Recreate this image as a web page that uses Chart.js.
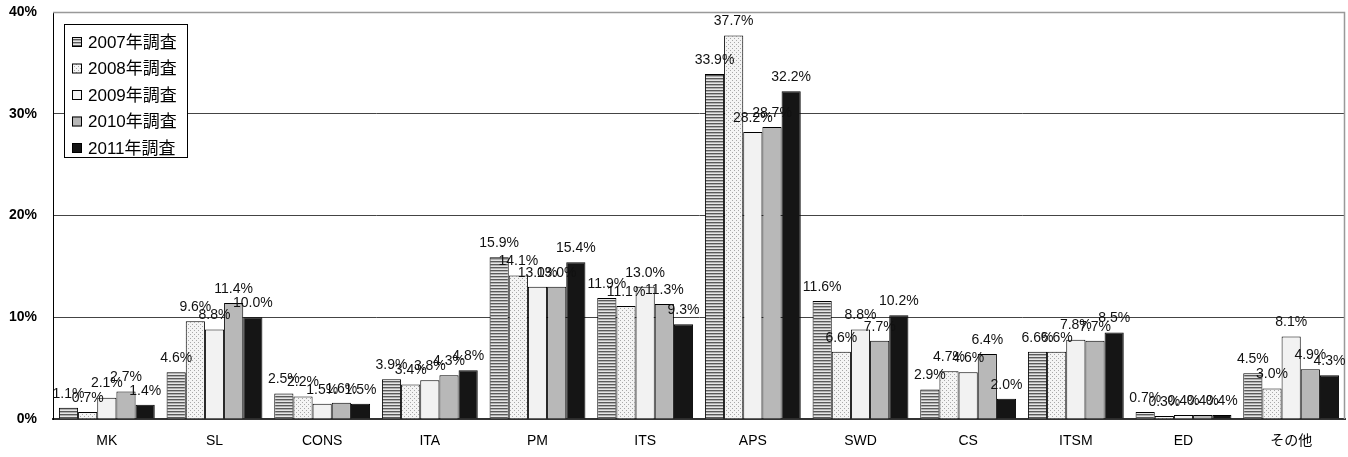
<!DOCTYPE html>
<html>
<head>
<meta charset="utf-8">
<script src="https://cdn.jsdelivr.net/npm/chart.js@4/dist/chart.umd.min.js"></script>
<style>
  body { margin: 0; background: #fff; }
  canvas { display: block; }
</style>
</head>
<body>
<canvas id="chart" width="1348" height="457"></canvas>
<script>
// data
const categories = ['MK', 'SL', 'CONS', 'ITA', 'PM', 'ITS', 'APS', 'SWD', 'CS', 'ITSM', 'ED', 'その他'];
const seriesNames = ['2007年調査', '2008年調査', '2009年調査', '2010年調査', '2011年調査'];
const y2007 = [1.1, 4.6, 2.5, 3.9, 15.9, 11.9, 33.9, 11.6, 2.9, 6.6, 0.7, 4.5];
const y2008 = [0.7, 9.6, 2.2, 3.4, 14.1, 11.1, 37.7, 6.6, 4.7, 6.6, 0.3, 3.0];
const y2009 = [2.1, 8.8, 1.5, 3.8, 13.0, 13.0, 28.2, 8.8, 4.6, 7.8, 0.4, 8.1];
const y2010 = [2.7, 11.4, 1.6, 4.3, 13.0, 11.3, 28.7, 7.7, 6.4, 7.7, 0.4, 4.9];
const y2011 = [1.4, 10.0, 1.5, 4.8, 15.4, 9.3, 32.2, 10.2, 2.0, 8.5, 0.4, 4.3];
const yTicks = [0, 10, 20, 30, 40];

const FONT = "'Liberation Sans', 'Noto Sans CJK JP', sans-serif";

// fill patterns like the original's
function stripePattern() {
    const c = document.createElement('canvas');
    c.width = 4; c.height = 3;
    const g = c.getContext('2d');
    g.fillStyle = '#e6e6e6'; g.fillRect(0, 0, 4, 3);
    g.fillStyle = '#5a5a5a'; g.fillRect(0, 0, 4, 1);
    g.fillStyle = '#b0b0b0'; g.fillRect(0, 1, 4, 1);
    return g.createPattern(c, 'repeat');
}
function dotPattern() {
    const c = document.createElement('canvas');
    c.width = 4; c.height = 4;
    const g = c.getContext('2d');
    g.fillStyle = '#f4f4f4'; g.fillRect(0, 0, 4, 4);
    g.fillStyle = '#a8a8a8';
    g.fillRect(0, 0, 1, 1);
    g.fillRect(2, 2, 1, 1);
    return g.createPattern(c, 'repeat');
}

const fills = [stripePattern(), dotPattern(), '#f2f2f2', '#b8b8b8', '#151515'];
const values = [y2007, y2008, y2009, y2010, y2011];

const datasets = seriesNames.map((name, i) => ({
    label: name,
    data: values[i],
    backgroundColor: fills[i],
    borderColor: '#000',
    borderWidth: 1,
    borderSkipped: 'bottom',
    categoryPercentage: 0.89,
    barPercentage: 1.0
}));

// labels, frame and inner legend
const extras = {
    id: 'extras',
    afterDraw(chart) {
        const ctx = chart.ctx;
        const area = chart.chartArea;
        ctx.save();

        // top and right frame of plot area
        ctx.strokeStyle = '#999';
        ctx.lineWidth = 1.5;
        ctx.beginPath();
        ctx.moveTo(area.left, area.top + 0.5);
        ctx.lineTo(area.right - 0.5, area.top + 0.5);
        ctx.lineTo(area.right - 0.5, area.bottom);
        ctx.stroke();

        // value labels
        ctx.font = '14px ' + FONT;
        ctx.fillStyle = '#111';
        ctx.textAlign = 'center';
        ctx.textBaseline = 'bottom';
        chart.data.datasets.forEach((ds, i) => {
            const meta = chart.getDatasetMeta(i);
            meta.data.forEach((bar, j) => {
                ctx.fillText(ds.data[j].toFixed(1) + '%', bar.x, bar.y - 7);
            });
        });

        // legend box
        const lx = 64, ly = 24, lw = 123, lh = 133;
        ctx.fillStyle = '#fff';
        ctx.fillRect(lx, ly, lw, lh);
        ctx.strokeStyle = '#000';
        ctx.lineWidth = 1;
        ctx.strokeRect(lx + 0.5, ly + 0.5, lw, lh);
        ctx.font = '17px ' + FONT;
        ctx.textAlign = 'left';
        ctx.textBaseline = 'middle';
        chart.data.datasets.forEach((ds, i) => {
            const cy = ly + 18 + i * 26.5;
            ctx.fillStyle = ds.backgroundColor;
            ctx.fillRect(72, cy - 5, 10, 10);
            ctx.strokeStyle = '#000';
            ctx.strokeRect(72.5, cy - 4.5, 9, 9);
            ctx.fillStyle = '#000';
            ctx.fillText(ds.label, 88, cy + 1);
        });
        ctx.restore();
    }
};

new Chart(document.getElementById('chart'), {
    type: 'bar',
    data: { labels: categories, datasets: datasets },
    options: {
        responsive: false,
        animation: false,
        devicePixelRatio: 1,
        layout: { padding: { top: 12, right: 3, left: 0, bottom: 0 } },
        plugins: {
            legend: { display: false },
            tooltip: { enabled: false }
        },
        scales: {
            x: {
                grid: { display: false },
                border: { color: '#333', width: 2 },
                ticks: { color: '#000', font: { size: 14, family: FONT }, padding: 6, maxRotation: 0 },
                afterFit(scale) { scale.height = 38; }
            },
            y: {
                min: 0,
                max: 40,
                afterBuildTicks(scale) { scale.ticks = yTicks.map(v => ({ value: v })); },
                ticks: {
                    color: '#000',
                    font: { size: 14, family: FONT, weight: 'bold' },
                    padding: 16,
                    callback: v => v + '%'
                },
                grid: { color: '#444', drawTicks: false, lineWidth: 1 },
                border: { color: '#000', width: 1 },
                afterFit(scale) {
                    scale.width = 53;
                    scale.paddingTop = 0;
                    scale.paddingBottom = 0;
                }
            }
        }
    },
    plugins: [extras]
});
</script>
</body>
</html>
